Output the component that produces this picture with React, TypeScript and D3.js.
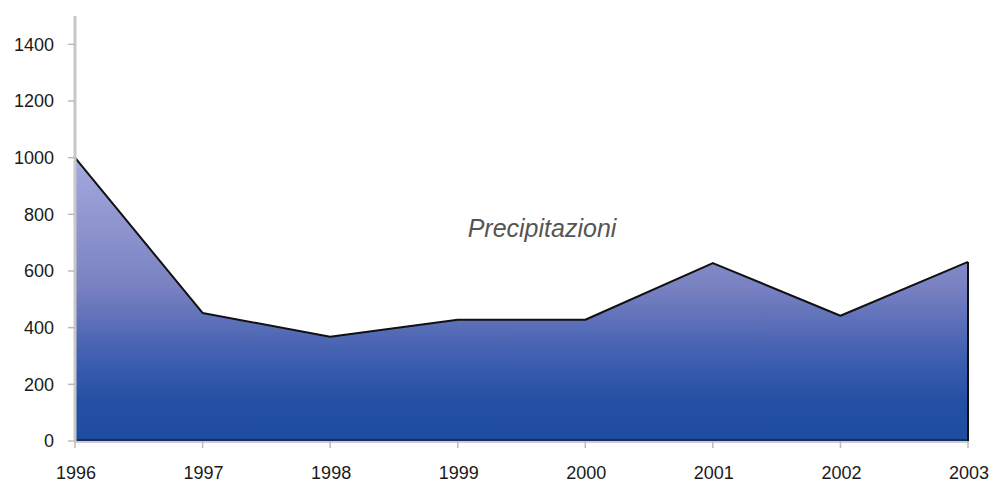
import * as React from "react";
import * as d3 from "d3";

const years = ["1996", "1997", "1998", "1999", "2000", "2001", "2002", "2003"];
const precipitazioni = [1000, 452, 368, 428, 428, 628, 442, 632];
const yTicks = [0, 200, 400, 600, 800, 1000, 1200, 1400];
const seriesLabel = "Precipitazioni";

const W = 993;
const H = 484;
const margin = { top: 16, right: 25, bottom: 43, left: 75 };

const App: React.FunctionComponent = () => {
  const x = d3
    .scalePoint<string>()
    .domain(years)
    .range([margin.left, W - margin.right]);
  const y = d3
    .scaleLinear()
    .domain([0, 1500])
    .range([H - margin.bottom, margin.top]);

  const pts: [number, number][] = years.map((yr, i) => [x(yr)!, y(precipitazioni[i])]);
  const area = d3
    .area<[number, number]>()
    .x(d => d[0])
    .y0(y(0))
    .y1(d => d[1]);
  const line = d3.line<[number, number]>();
  const topY = d3.min(pts, d => d[1])!;

  const font = "'Liberation Sans', Arial, sans-serif";
  const x0 = x(years[0])!;
  const x1 = x(years[years.length - 1])!;

  return (
    <svg
      width={W}
      height={H}
      style={{ position: "absolute", left: 0, top: 0, background: "#fff" }}
    >
      <defs>
        <linearGradient
          id="areaFill"
          gradientUnits="userSpaceOnUse"
          x1={0}
          x2={0}
          y1={topY}
          y2={y(0)}
        >
          <stop offset="0%" stopColor="#a4aadd" />
          <stop offset="45%" stopColor="#7a82c2" />
          <stop offset="68%" stopColor="#4462b2" />
          <stop offset="85%" stopColor="#2551a5" />
          <stop offset="100%" stopColor="#1e4c9e" />
        </linearGradient>
      </defs>

      <path d={area(pts)!} fill="url(#areaFill)" />
      <line x1={x0} x2={x1} y1={y(0) - 1} y2={y(0) - 1} stroke="#16305e" strokeWidth={2} />
      <path d={line(pts)!} fill="none" stroke="#111" strokeWidth={2} strokeLinejoin="round" />
      <line x1={x1} x2={x1} y1={pts[pts.length - 1][1]} y2={y(0)} stroke="#111" strokeWidth={2} />

      {/* x axis */}
      <line x1={x0} x2={x1 + 1} y1={y(0) + 1} y2={y(0) + 1} stroke="#bbb" strokeWidth={1.5} />
      {years.map(yr => (
        <g key={yr}>
          <line x1={x(yr)} x2={x(yr)} y1={y(0)} y2={y(0) + 7} stroke="#bbb" strokeWidth={1.5} />
          <text
            x={x(yr)! + 1}
            y={479}
            textAnchor="middle"
            fontFamily={font}
            fontSize={18}
            fill="#1a1a1a"
          >
            {yr}
          </text>
        </g>
      ))}

      {/* y axis */}
      <line x1={x0} x2={x0} y1={margin.top} y2={y(0) + 1} stroke="#c8c8c8" strokeWidth={3} />
      {yTicks.map(t => (
        <g key={t}>
          <line x1={x0 - 7} x2={x0} y1={y(t)} y2={y(t)} stroke="#bbb" strokeWidth={1.5} />
          <text
            x={54}
            y={y(t)}
            dy="0.35em"
            textAnchor="end"
            fontFamily={font}
            fontSize={18}
            fill="#1a1a1a"
          >
            {t}
          </text>
        </g>
      ))}

      <text
        x={542}
        y={237}
        textAnchor="middle"
        fontFamily={font}
        fontStyle="italic"
        fontSize={25}
        fill="#555"
      >
        {seriesLabel}
      </text>
    </svg>
  );
};

export default App;
